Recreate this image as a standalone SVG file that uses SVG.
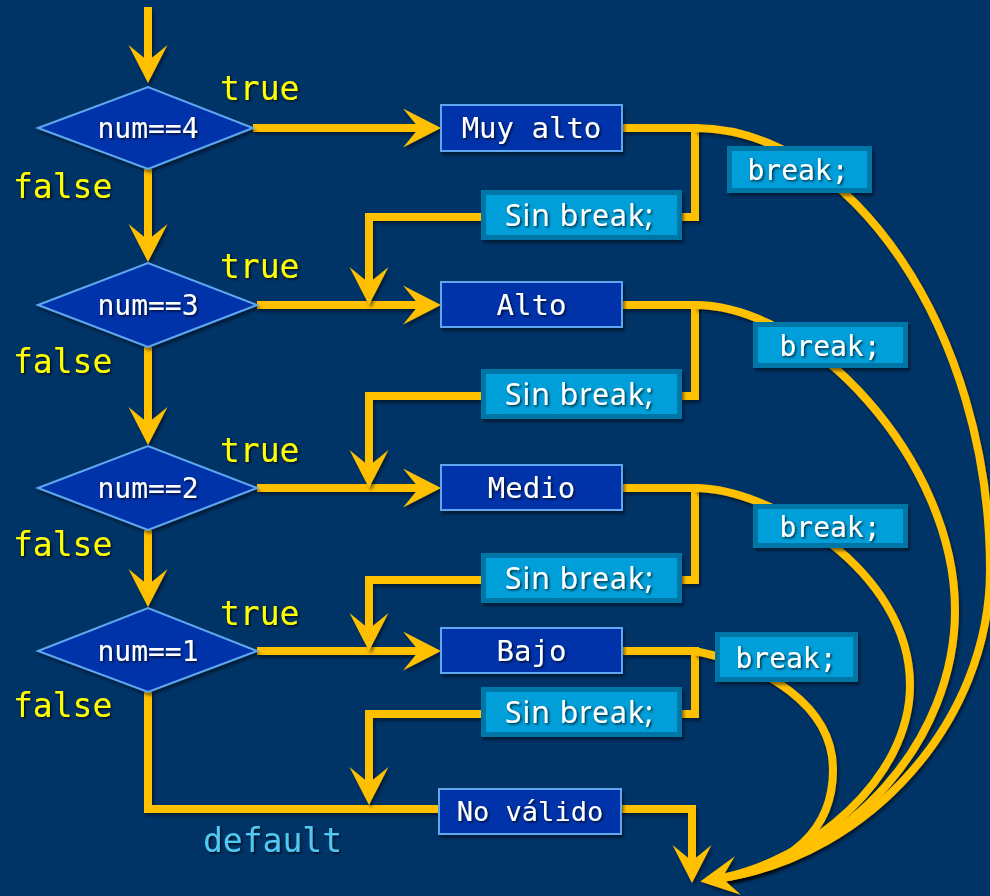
<svg xmlns="http://www.w3.org/2000/svg" width="990" height="896" viewBox="0 0 990 896">
  <defs>
    <!-- user-space region so straight (zero-width) lines still get their shadow -->
    <filter id="shadow" filterUnits="userSpaceOnUse" x="0" y="0" width="990" height="896">
      <feDropShadow dx="2" dy="3" stdDeviation="1.5" flood-color="#000" flood-opacity="0.45"/>
    </filter>
    <filter id="tshadow" x="-10%" y="-20%" width="120%" height="140%">
      <feDropShadow dx="1.5" dy="1.5" stdDeviation="0.8" flood-color="#000" flood-opacity="0.7"/>
    </filter>
    <marker id="arrow" markerUnits="userSpaceOnUse" markerWidth="40" markerHeight="40" refX="16" refY="19.5" orient="auto" overflow="visible">
      <path d="M0,0 L38,19.5 L0,39 L16,19.5 Z" fill="#FFC000"/>
    </marker>
  </defs>
  <style>
    .bg { fill: #003366; }
    .line { fill: none; stroke: #FFC000; stroke-width: 8; stroke-linejoin: miter; filter: url(#shadow); }
    .arr { marker-end: url(#arrow); }
    .cond { fill: #0033AA; stroke: #5FA8F0; stroke-width: 2; filter: url(#shadow); }
    .case { fill: #0033AA; stroke: #5FA8F0; stroke-width: 2; filter: url(#shadow); }
    .brk { fill: #009FD9; stroke: #0576A6; stroke-width: 5; filter: url(#shadow); }
    .mono { font-family: "DejaVu Sans Mono", "Liberation Mono", monospace; filter: url(#tshadow); }
    .sans { font-family: "Noto Sans", "Open Sans", "Liberation Sans", sans-serif; filter: url(#tshadow); }
    .w { fill: #FFFFFF; }
    .y { fill: #FFFF00; font-size: 33px; }
    .c { fill: #4FC8F2; font-size: 33px; }
  </style>

  <rect class="bg" x="0" y="0" width="990" height="896"/>

  <!-- connectors -->
  <g id="connectors">
    <!-- entry and false branches -->
    <path class="line arr" d="M148,7 V61"/>
    <path class="line arr" d="M148,169 V240"/>
    <path class="line arr" d="M148,347 V423"/>
    <path class="line arr" d="M148,530 V585"/>
    <path class="line" d="M148,692 V809 H439"/>

    <!-- true branches -->
    <path class="line arr" d="M253,128 H419"/>
    <path class="line arr" d="M257,305 H419"/>
    <path class="line arr" d="M257,488 H419"/>
    <path class="line arr" d="M257,651 H419"/>

    <!-- fall-through (no break) -->
    <path class="line" d="M622,128 H695 V217 H682"/>
    <path class="line" d="M622,305 H695 V396 H682"/>
    <path class="line" d="M622,488 H695 V580 H682"/>
    <path class="line" d="M622,651 H695 V714 H682"/>
    <path class="line arr" d="M481,217 H369 V283"/>
    <path class="line arr" d="M481,396 H369 V466"/>
    <path class="line arr" d="M481,580 H369 V629"/>
    <path class="line arr" d="M481,714 H369 V783"/>

    <!-- default exit -->
    <path class="line arr" d="M621,809 H692 V861"/>

    <!-- break exits -->
    <path class="line" d="M695,651 C765,665 833,705 833,770 C833,830 790,868 722,878"/>
    <path class="line" d="M695,488 C770,488 910,570 910,685 C910,780 810,860 722,878"/>
    <path class="line" d="M695,305 C810,305 955,460 955,610 C955,740 850,858 722,878"/>
    <path class="line arr" d="M695,128 C850,128 990,330 990,570 C990,720 870,855 722,878"/>
  </g>

  <!-- conditions -->
  <g id="cond4">
    <polygon class="cond" points="38,128 148,87 253,128 148,169"/>
    <text class="mono w" x="148" y="138" font-size="28" text-anchor="middle">num==4</text>
  </g>
  <g id="cond3">
    <polygon class="cond" points="38,305 148,263 257,305 148,347"/>
    <text class="mono w" x="148" y="315" font-size="28" text-anchor="middle">num==3</text>
  </g>
  <g id="cond2">
    <polygon class="cond" points="38,488 148,446 257,488 148,530"/>
    <text class="mono w" x="148" y="498" font-size="28" text-anchor="middle">num==2</text>
  </g>
  <g id="cond1">
    <polygon class="cond" points="38,651 148,608 257,651 148,692"/>
    <text class="mono w" x="148" y="661" font-size="28" text-anchor="middle">num==1</text>
  </g>

  <!-- branch labels -->
  <g id="labels">
    <text class="mono y" x="220" y="100">true</text>
    <text class="mono y" x="220" y="278">true</text>
    <text class="mono y" x="220" y="462">true</text>
    <text class="mono y" x="220" y="625">true</text>
    <text class="mono y" x="13" y="198">false</text>
    <text class="mono y" x="13" y="373">false</text>
    <text class="mono y" x="13" y="556">false</text>
    <text class="mono y" x="13" y="717">false</text>
    <text class="mono c" x="203" y="852">default</text>
  </g>

  <!-- case actions -->
  <g id="case4">
    <rect class="case" x="441" y="105" width="181" height="46"/>
    <text class="mono w" x="531.5" y="138" font-size="29" text-anchor="middle">Muy alto</text>
  </g>
  <g id="case3">
    <rect class="case" x="441" y="282" width="181" height="45"/>
    <text class="mono w" x="531.5" y="315" font-size="29" text-anchor="middle">Alto</text>
  </g>
  <g id="case2">
    <rect class="case" x="441" y="465" width="181" height="45"/>
    <text class="mono w" x="531.5" y="498" font-size="29" text-anchor="middle">Medio</text>
  </g>
  <g id="case1">
    <rect class="case" x="441" y="628" width="181" height="45"/>
    <text class="mono w" x="531.5" y="661" font-size="29" text-anchor="middle">Bajo</text>
  </g>
  <g id="default">
    <rect class="case" x="439" y="789" width="182" height="45"/>
    <text class="mono w" x="530" y="821" font-size="27" text-anchor="middle">No válido</text>
  </g>

  <!-- fall-through labels -->
  <g id="nobreak4">
    <rect class="brk" x="483.5" y="192.5" width="196" height="45"/>
    <text class="sans w" x="505" y="226" font-size="30" textLength="148" lengthAdjust="spacing">Sin break;</text>
  </g>
  <g id="nobreak3">
    <rect class="brk" x="483.5" y="371.5" width="196" height="45"/>
    <text class="sans w" x="505" y="405" font-size="30" textLength="148" lengthAdjust="spacing">Sin break;</text>
  </g>
  <g id="nobreak2">
    <rect class="brk" x="483.5" y="555.5" width="196" height="45"/>
    <text class="sans w" x="505" y="589" font-size="30" textLength="148" lengthAdjust="spacing">Sin break;</text>
  </g>
  <g id="nobreak1">
    <rect class="brk" x="483.5" y="689.5" width="196" height="45"/>
    <text class="sans w" x="505" y="723" font-size="30" textLength="148" lengthAdjust="spacing">Sin break;</text>
  </g>

  <!-- break labels -->
  <g id="break4">
    <rect class="brk" x="729.5" y="148.5" width="140" height="42"/>
    <text class="mono w" x="798" y="180" font-size="28" text-anchor="middle">break;</text>
  </g>
  <g id="break3">
    <rect class="brk" x="755.5" y="324.5" width="150" height="41"/>
    <text class="mono w" x="830" y="356" font-size="28" text-anchor="middle">break;</text>
  </g>
  <g id="break2">
    <rect class="brk" x="755.5" y="506.5" width="150" height="39"/>
    <text class="mono w" x="830" y="537" font-size="28" text-anchor="middle">break;</text>
  </g>
  <g id="break1">
    <rect class="brk" x="717.5" y="634.5" width="138" height="45"/>
    <text class="mono w" x="786" y="668" font-size="28" text-anchor="middle">break;</text>
  </g>
</svg>
